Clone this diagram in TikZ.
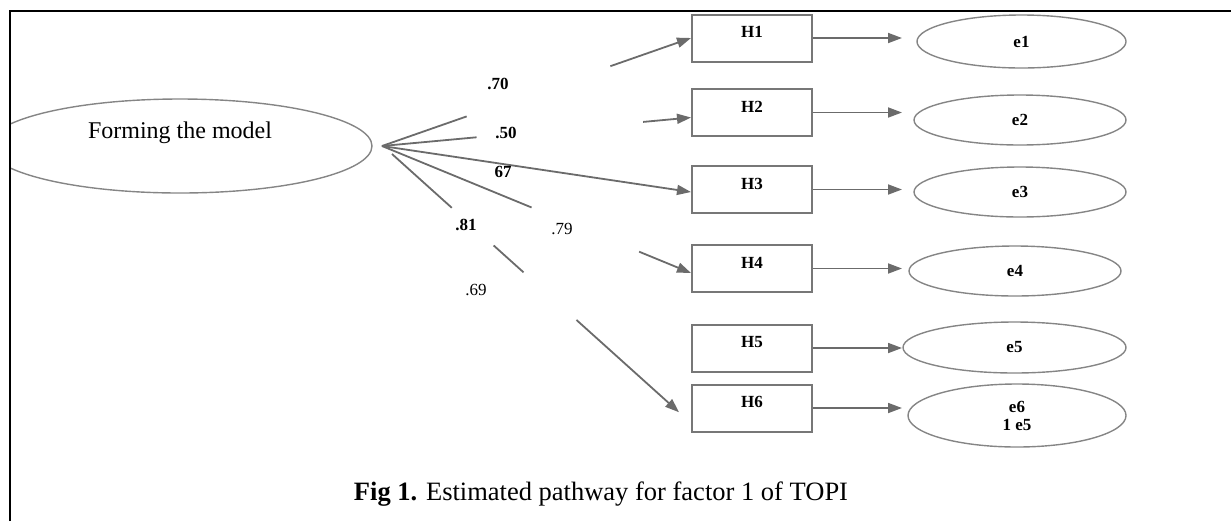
\documentclass[tikz,border=0pt]{standalone}
\usepackage{fontspec}
\setmainfont{Liberation Serif}
\usetikzlibrary{arrows.meta,calc,shapes.geometric}
\definecolor{pathline}{HTML}{6B6B6B}
\definecolor{boxline}{HTML}{777777}
\definecolor{ovalline}{HTML}{858585}

\begin{document}
\begin{tikzpicture}[x=0.5pt,y=-0.5pt,
  obs/.style={draw=boxline,line width=1pt,minimum width=60pt,minimum height=23.5pt,
    inner sep=0pt,font=\fontsize{8.5}{9}\selectfont\bfseries,text height=5.7pt,text depth=6pt},
  err/.style={ellipse,draw=ovalline,line width=0.7pt,inner sep=0pt,
    font=\fontsize{8.5}{9}\selectfont\bfseries,align=center},
  coef/.style={font=\fontsize{8.5}{9}\selectfont\bfseries,inner sep=0pt},
  load/.style={draw=pathline,line width=0.9pt},
  loadarr/.style={load,-{Triangle[length=7pt,width=5pt]}}]
  \useasboundingbox (0,0) rectangle (1231,521);

  % latent factor, cut by the frame
  \begin{scope}
    \clip (10,0) rectangle (1231,521);
    \node[ellipse,draw=ovalline,line width=0.7pt,minimum width=192pt,minimum height=47pt,
      font=\fontsize{12}{14}\selectfont,text height=8pt,text depth=16pt] (model) at (180,146) {Forming the model};
  \end{scope}

  % frame
  \draw[line width=1.3pt] (10,521) -- (10,11) -- (1231,11);

  % observed items
  \node[obs] (H1) at (752,38) {H1};
  \node[obs] (H2) at (752,112.5) {H2};
  \node[obs] (H3) at (752,189.5) {H3};
  \node[obs] (H4) at (752,268.5) {H4};
  \node[obs] (H5) at (752,348) {H5};
  \node[obs] (H6) at (752,408) {H6};

  % error terms
  \node[err,minimum width=104.5pt,minimum height=26.5pt] (e1) at (1021.5,41.5) {e1};
  \node[err,minimum width=106pt,minimum height=25pt] (e2) at (1020,120) {e2};
  \node[err,minimum width=106pt,minimum height=25pt] (e3) at (1020,192) {e3};
  \node[err,minimum width=106pt,minimum height=25pt] (e4) at (1015,271) {e4};
  \node[err,minimum width=111.5pt,minimum height=25.5pt] (e5) at (1014.5,347.5) {e5};
  \node[err,minimum width=109pt,minimum height=31.5pt] (e6) at (1017,415.5) {e6\\1 e5};

  % loadings (broken as printed)
  \coordinate (src) at (382,146);
  \draw[load] (src) -- ($(src)!0.274!(H1.west)$);
  \draw[loadarr] ($(src)!0.739!(H1.west)$) -- (H1.west);
  \coordinate (aim2) at ($(H2.west)+(0,5)$);
  \draw[load] (src) -- ($(src)!0.306!(aim2)$);
  \draw[loadarr] ($(src)!0.845!(aim2)$) -- (aim2);
  \draw[loadarr] (src) -- ($(H3.west)+(0,2.5)$);
  \coordinate (aim4) at ($(H4.west)+(0,4.5)$);
  \draw[load] (src) -- ($(src)!0.484!(aim4)$);
  \draw[loadarr] ($(src)!0.832!(aim4)$) -- (aim4);
  \coordinate (src6) at (392,154);
  \coordinate (aim6) at ($(H6.west)+(0,15)$);
  \draw[load] (src6) -- ($(src6)!0.2!(aim6)$);
  \draw[load] ($(src6)!0.34!(aim6)$) -- ($(src6)!0.44!(aim6)$);
  \draw[loadarr] ($(src6)!0.617!(aim6)$) -- ($(src6)!0.96!(aim6)$);

  % coefficients
  \node[coef] (c1) at (498,84) {.70};
  \node[coef] (c2) at (506,133) {.50};
  \node[coef] (c3) at (503,172) {67};
  \node[coef] (c4) at (466,225) {.81};
  \node[coef,font=\fontsize{8.5}{9}\selectfont] (c5) at (562,229) {.79};
  \node[coef,font=\fontsize{8.5}{9}\selectfont] (c6) at (476,290) {.69};

  % items to errors
  \coordinate (tipx) at (902,0);
  \foreach \i in {1,...,6}
    \draw[loadarr] (H\i.east) -- (H\i.east -| tipx);

  % caption
  \node[font=\fontsize{13.25}{15}\selectfont] (caption) at (601,494) {\textbf{Fig 1.} Estimated pathway for factor 1 of TOPI};
\end{tikzpicture}
\end{document}
